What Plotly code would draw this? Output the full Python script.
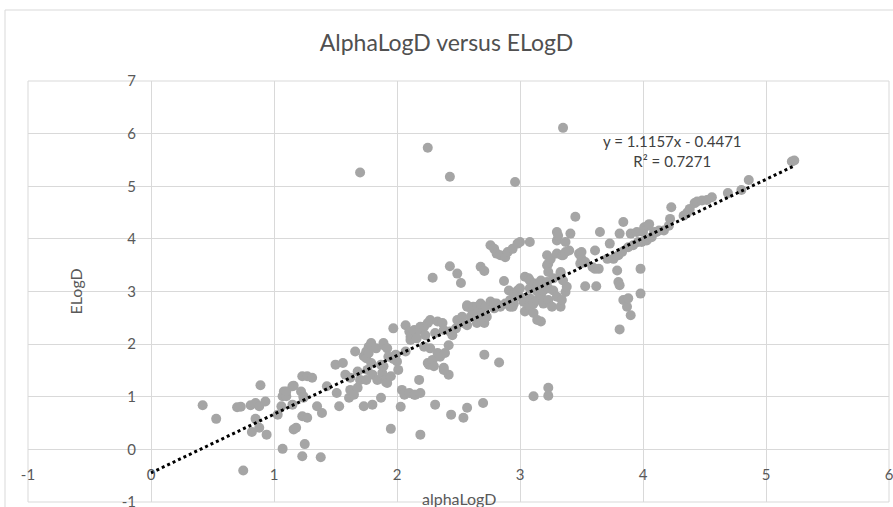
import plotly.graph_objects as go

# Data (alphaLogD, ELogD)
alpha_logd = [
    0.42, 0.53, 0.70, 0.73, 0.75, 0.81, 0.82, 0.85, 0.85, 0.88, 0.88, 0.89, 0.93, 0.94,
    1.03, 1.06, 1.07, 1.07, 1.08, 1.10, 1.10, 1.15, 1.15, 1.16, 1.18, 1.16, 1.22, 1.23,
    1.23, 1.23, 1.24, 1.24, 1.25, 1.27, 1.27, 1.31, 1.35, 1.38, 1.39, 1.43, 1.50, 1.51,
    1.53, 1.56, 1.58, 1.61, 1.62, 1.62, 1.65, 1.66, 1.68, 1.68, 1.70, 1.70, 1.73, 1.73,
    1.75, 1.75, 1.75, 1.76, 1.77, 1.77, 1.79, 1.79, 1.79, 1.80, 1.80, 1.83, 1.84, 1.87,
    1.87, 1.88, 1.89, 1.89, 1.89, 1.91, 1.91, 1.92, 1.92, 1.93, 1.95, 1.95, 1.97, 1.97,
    1.97, 1.99, 2.00, 2.01, 2.03, 2.04, 2.06, 2.07, 2.07, 2.10, 2.10, 2.11, 2.11, 2.12,
    2.14, 2.14, 2.15, 2.16, 2.18, 2.18, 2.19, 2.19, 2.19, 2.22, 2.22, 2.23, 2.25, 2.25,
    2.25, 2.26, 2.27, 2.27, 2.29, 2.29, 2.30, 2.31, 2.31, 2.33, 2.33, 2.35, 2.37, 2.38,
    2.38, 2.39, 2.42, 2.42, 2.38, 2.43, 2.43, 2.43, 2.44, 2.45, 2.48, 2.49, 2.49, 2.52,
    2.53, 2.54, 2.54, 2.57, 2.57, 2.57, 2.57, 2.60, 2.61, 2.62, 2.64, 2.65, 2.65, 2.68,
    2.68, 2.68, 2.69, 2.70, 2.71, 2.71, 2.71, 2.72, 2.73, 2.76, 2.76, 2.79, 2.79, 2.79,
    2.81, 2.81, 2.83, 2.84, 2.84, 2.87, 2.88, 2.88, 2.90, 2.91, 2.92, 2.92, 2.94, 2.94,
    2.95, 2.95, 2.96, 2.98, 2.98, 3.00, 3.00, 3.00, 3.03, 3.04, 3.04, 3.07, 3.07, 3.08,
    3.08, 3.08, 3.08, 3.08, 3.11, 3.11, 3.11, 3.12, 3.14, 3.14, 3.14, 3.14, 3.17, 3.17,
    3.17, 3.19, 3.19, 3.22, 3.22, 3.22, 3.23, 3.23, 3.23, 3.23, 3.23, 3.23, 3.25, 3.26,
    3.27, 3.27, 3.30, 3.30, 3.30, 3.30, 3.31, 3.33, 3.33, 3.33, 3.34, 3.34, 3.35, 3.35,
    3.35, 3.37, 3.37, 3.37, 3.38, 3.40, 3.41, 3.45, 3.48, 3.49, 3.50, 3.50, 3.53, 3.53,
    3.59, 3.61, 3.61, 3.62, 3.64, 3.65, 3.71, 3.73, 3.76, 3.79, 3.80, 3.80, 3.81, 3.81,
    3.81, 3.83, 3.84, 3.84, 3.87, 3.88, 3.88, 3.90, 3.90, 3.92, 3.95, 3.96, 3.98, 3.98,
    3.99, 4.00, 4.01, 4.03, 4.04, 4.05, 4.07, 4.09, 4.11, 4.13, 4.17, 4.21, 4.22, 4.23,
    4.33, 4.36, 4.38, 4.42, 4.44, 4.48, 4.52, 4.56, 4.69, 4.80, 4.86, 5.21, 5.23,
]
e_logd = [
    0.84, 0.58, 0.80, 0.81, -0.40, 0.84, 0.33, 0.58, 0.88, 0.82, 0.41, 1.22, 0.91, 0.28,
    0.66, 0.82, 1.01, 0.01, 1.10, 1.01, 1.10, 0.85, 1.20, 0.38, 0.41, 1.21, 1.10, -0.13,
    0.63, 1.39, 1.01, 0.98, 0.10, 0.60, 1.39, 1.36, 0.82, -0.15, 0.69, 1.20, 1.61, 1.07,
    0.82, 1.64, 1.42, 0.98, 1.36, 1.13, 1.04, 1.86, 1.48, 1.17, 1.32, 5.26, 0.82, 1.77,
    1.86, 1.73, 1.32, 1.51, 1.95, 1.83, 2.02, 1.98, 1.64, 0.85, 1.42, 1.92, 1.32, 0.98,
    1.61, 1.45, 1.98, 2.02, 1.58, 1.28, 1.32, 1.92, 1.26, 1.76, 0.39, 1.39, 2.30, 1.76,
    1.72, 1.80, 1.67, 1.51, 0.81, 1.13, 1.04, 2.36, 1.86, 2.24, 1.07, 2.14, 2.08, 2.17,
    1.04, 2.27, 1.04, 2.11, 2.27, 1.32, 1.07, 0.28, 2.33, 1.95, 2.33, 2.17, 2.40, 5.73,
    1.64, 1.61, 2.46, 1.92, 3.26, 1.70, 1.58, 0.85, 2.21, 2.43, 1.83, 1.76, 2.40, 2.27,
    1.55, 1.83, 1.98, 1.42, 1.51, 2.24, 3.48, 5.18, 0.66, 2.17, 2.30, 3.34, 2.46, 3.16,
    2.52, 0.60, 2.40, 0.79, 2.71, 2.36, 2.74, 2.52, 2.65, 2.71, 2.58, 2.40, 2.71, 2.65,
    2.77, 3.47, 2.46, 0.88, 3.39, 2.40, 1.80, 2.71, 2.52, 2.81, 3.88, 2.68, 2.77, 3.81,
    3.72, 2.77, 1.65, 3.69, 2.71, 3.20, 3.65, 2.77, 3.75, 3.02, 2.71, 2.84, 3.81, 2.71,
    2.77, 2.96, 5.08, 3.91, 3.02, 3.94, 3.06, 2.90, 2.80, 3.28, 2.62, 2.74, 3.25, 3.94,
    3.21, 3.06, 2.87, 2.71, 2.77, 2.59, 1.01, 3.15, 3.12, 3.00, 2.84, 2.46, 3.21, 2.93,
    2.43, 3.02, 2.77, 3.18, 3.69, 3.50, 3.06, 3.53, 3.37, 2.84, 1.17, 1.02, 3.62, 2.71,
    3.25, 3.02, 2.90, 4.13, 3.97, 3.72, 4.06, 3.34, 3.37, 2.71, 2.84, 3.69, 6.11, 3.21,
    3.69, 3.94, 2.99, 3.75, 3.09, 3.78, 4.10, 4.42, 3.72, 3.53, 3.62, 3.75, 3.56, 3.10,
    3.46, 3.43, 3.78, 3.10, 3.43, 4.13, 3.62, 3.91, 3.62, 3.40, 3.69, 3.18, 3.12, 4.10,
    2.28, 3.75, 4.32, 2.84, 2.71, 3.84, 2.87, 2.55, 4.10, 3.88, 4.13, 3.94, 3.43, 2.96,
    3.94, 4.13, 4.22, 3.97, 4.25, 4.28, 4.03, 4.13, 4.13, 4.16, 4.16, 4.25, 4.38, 4.60,
    4.44, 4.50, 4.57, 4.68, 4.71, 4.73, 4.74, 4.79, 4.87, 4.93, 5.12, 5.47, 5.49,
]

# Linear trendline as reported in the chart
slope = 1.1157
intercept = -0.4471
r_squared = 0.7271
trend_x = [0.0, max(alpha_logd)]
trend_y = [slope * v + intercept for v in trend_x]

x_ticks = [-1, 0, 1, 2, 3, 4, 5, 6]
y_ticks = [-1, 0, 1, 2, 3, 4, 5, 6, 7]

FONT = "Lato"
GRID = "#D9D9D9"
TXT = "#595959"

fig = go.Figure()
fig.add_trace(go.Scatter(
    x=alpha_logd, y=e_logd, mode="markers",
    marker=dict(color="#A5A5A5", size=10, line=dict(width=0)),
    showlegend=False, hoverinfo="x+y",
))
fig.add_trace(go.Scatter(
    x=trend_x, y=trend_y, mode="lines",
    line=dict(color="black", width=3, dash="dot"),
    showlegend=False, hoverinfo="skip",
))

axis_common = dict(
    showgrid=True, gridcolor=GRID, gridwidth=1,
    zeroline=True, zerolinecolor=GRID, zerolinewidth=1,
    showline=False, anchor="free", automargin=False,
    ticks="outside", ticklen=12, tickcolor="rgba(0,0,0,0)",
    ticklabeloverflow="allow",
    tickfont=dict(family=FONT, size=15, color=TXT), fixedrange=True,
)

fig.update_layout(
    width=893, height=507,
    margin=dict(l=28, r=4, t=81, b=5, autoexpand=False),
    paper_bgcolor="white", plot_bgcolor="white",
    title=dict(text="AlphaLogD versus ELogD", x=0.5, xref="container", xanchor="center",
               y=1 - 43 / 507, yref="container", yanchor="middle",
               font=dict(family=FONT, size=23, color="#505050")),
    xaxis=dict(range=[-1, 6], tickvals=x_ticks, ticktext=[str(v) for v in x_ticks],
               position=0.125, **axis_common),
    yaxis=dict(range=[-1, 7], tickvals=y_ticks, ticktext=[str(v) for v in y_ticks],
               position=1 / 7, **axis_common),
    shapes=[
        dict(type="rect", xref="paper", yref="paper", x0=0, x1=1, y0=0, y1=1,
             line=dict(color=GRID, width=1), layer="below"),
        dict(type="rect", xref="paper", yref="paper",
             x0=-23 / 861, x1=1.02, y0=-0.03, y1=1 + 71 / 421,
             line=dict(color=GRID, width=1), layer="below"),
    ],
    annotations=[
        dict(text="alphaLogD", xref="paper", yref="paper", x=0.5, y=(502 - 487) / 421,
             xanchor="center", yanchor="top", showarrow=False,
             font=dict(family=FONT, size=16, color=TXT)),
        dict(text="ELogD", xref="paper", yref="paper", x=(75 - 28) / 861, y=0.5,
             xanchor="center", yanchor="middle", textangle=-90, showarrow=False,
             font=dict(family=FONT, size=16, color=TXT)),
        dict(text=f"y = {slope}x - {abs(intercept)}<br>R² = {r_squared}",
             xref="paper", yref="paper", x=(672 - 28) / 861, y=(502 - 151) / 421,
             xanchor="center", yanchor="middle", showarrow=False, align="center",
             font=dict(family=FONT, size=15, color="#404040")),
    ],
)

fig.write_html("out.html")
